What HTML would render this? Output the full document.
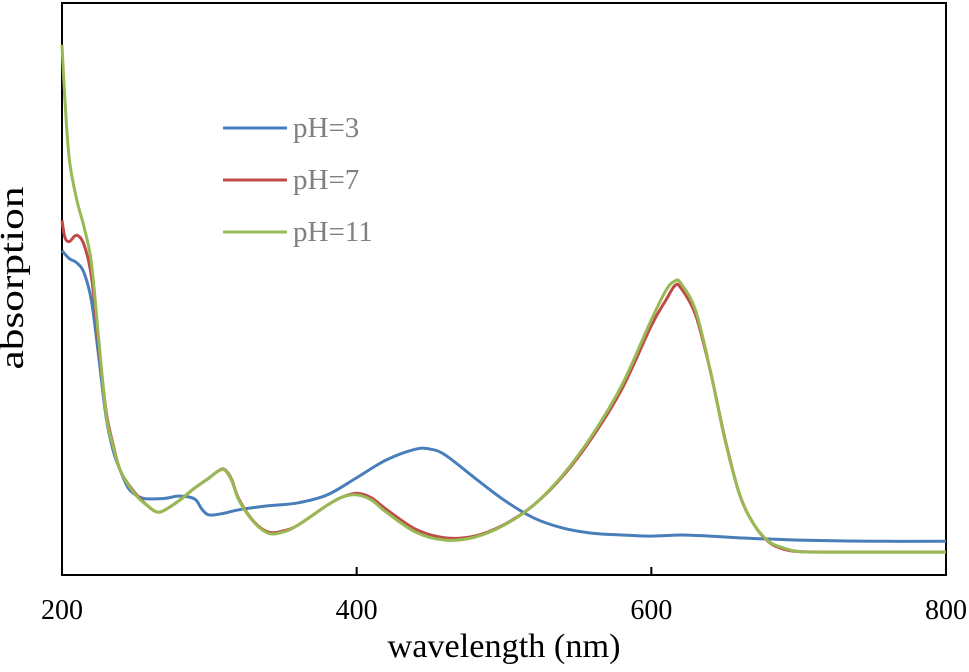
<!DOCTYPE html>
<html><head><meta charset="utf-8"><style>
body{margin:0;background:#fff}
svg text{font-family:"Liberation Serif",serif}
</style></head><body>
<svg id="chart" width="969" height="667" viewBox="0 0 969 667" xmlns="http://www.w3.org/2000/svg">
<rect x="62" y="3" width="884" height="572" fill="none" stroke="#000" stroke-width="2"/>
<g id="ticks"></g>
<g id="series"></g>
<g id="legend"></g>
<text x="504" y="657" font-size="34" text-anchor="middle" textLength="233" lengthAdjust="spacingAndGlyphs">wavelength (nm)</text>
<text transform="translate(23,278) rotate(-90)" font-size="34" text-anchor="middle" textLength="183" lengthAdjust="spacingAndGlyphs">absorption</text>
</svg>
<script>
const xTicks=[200,400,600,800];
const wl3=[200,205,210,215,220,225,230,235,240,245,250,255,260,270,280,290,295,300,310,320,340,360,380,400,420,440,450,460,480,500,520,540,560,580,600,620,640,660,700,750,800];
const abs3=[0.567,0.553,0.546,0.528,0.479,0.380,0.275,0.215,0.180,0.152,0.140,0.134,0.133,0.134,0.138,0.133,0.115,0.105,0.108,0.114,0.121,0.126,0.140,0.170,0.201,0.220,0.220,0.210,0.170,0.131,0.100,0.082,0.073,0.070,0.068,0.070,0.068,0.065,0.061,0.059,0.059];
const wl7=[200,202,205,210,215,220,225,230,235,240,250,260,265,270,280,290,300,305,310,315,320,330,340,350,360,380,390,400,410,420,440,460,480,500,520,540,560,580,600,610,616,620,630,640,650,660,670,680,690,700,720,800];
const abs7=[0.620,0.590,0.583,0.594,0.577,0.521,0.400,0.285,0.225,0.180,0.142,0.117,0.110,0.114,0.131,0.152,0.170,0.180,0.185,0.168,0.133,0.094,0.075,0.077,0.087,0.122,0.136,0.143,0.135,0.115,0.080,0.065,0.068,0.088,0.122,0.173,0.241,0.325,0.436,0.481,0.506,0.502,0.455,0.357,0.238,0.140,0.087,0.057,0.045,0.041,0.040,0.040];
const wl11=[200,202,205,210,215,220,225,230,235,240,250,260,265,270,280,290,300,305,310,315,320,330,340,350,360,380,390,400,410,420,440,460,480,500,520,540,560,580,600,610,616,620,630,640,650,660,670,680,690,700,720,800];
const abs11=[0.927,0.830,0.726,0.656,0.608,0.545,0.410,0.280,0.222,0.180,0.140,0.117,0.110,0.114,0.131,0.152,0.170,0.180,0.184,0.166,0.131,0.093,0.073,0.075,0.087,0.122,0.136,0.140,0.131,0.110,0.075,0.061,0.066,0.087,0.122,0.175,0.245,0.332,0.446,0.498,0.514,0.510,0.463,0.358,0.236,0.140,0.087,0.058,0.047,0.041,0.040,0.040];
const legendLabels=["pH=3","pH=7","pH=11"];
const colors=["#4a7ebb","#be4b48","#98b954"];
const X0=62,X1=946,Y0=575,Y1=3;
function xs(v){return X0+(v-200)/600*(X1-X0);}
function ys(v){return Y0-v*(Y0-Y1);}
const NS="http://www.w3.org/2000/svg";
const tg=document.getElementById('ticks');
xTicks.forEach(t=>{
 const l=document.createElementNS(NS,'line');
 
 
 l.setAttribute('x1',xs(t));l.setAttribute('x2',xs(t));l.setAttribute('y1',Y0);l.setAttribute('y2',Y0-8);
 l.setAttribute('stroke','#000');l.setAttribute('stroke-width','2');tg.appendChild(l);
 const tx=document.createElementNS(NS,'text');
 
 
 tx.setAttribute('x',xs(t));tx.setAttribute('y',619);tx.setAttribute('font-size','28');
 tx.setAttribute('text-anchor','middle');tx.textContent=t;tg.appendChild(tx);
});
const sg=document.getElementById('series');
[[wl3,abs3],[wl7,abs7],[wl11,abs11]].forEach((s,i)=>{
 const pts=s[0].map((w,j)=>[xs(w),ys(s[1][j])]);
 let d='M'+pts[0][0]+','+pts[0][1];
 for(let j=0;j<pts.length-1;j++){
  const p0=pts[Math.max(j-1,0)],p1=pts[j],p2=pts[j+1],p3=pts[Math.min(j+2,pts.length-1)];
  const c1=[p1[0]+(p2[0]-p0[0])/6,p1[1]+(p2[1]-p0[1])/6],c2=[p2[0]-(p3[0]-p1[0])/6,p2[1]-(p3[1]-p1[1])/6];
  d+=' C'+c1+' '+c2+' '+p2;
 }
 const p=document.createElementNS(NS,'path');
 
 
 p.setAttribute('d',d);p.setAttribute('fill','none');p.setAttribute('stroke',colors[i]);p.setAttribute('stroke-width','3');
 sg.appendChild(p);
});
const lg=document.getElementById('legend');
legendLabels.forEach((lab,i)=>{
 const y=128+i*52;
 const l=document.createElementNS(NS,'line');
 
 
 l.setAttribute('x1',223);l.setAttribute('x2',287);l.setAttribute('y1',y);l.setAttribute('y2',y);
 l.setAttribute('stroke',colors[i]);l.setAttribute('stroke-width','3');lg.appendChild(l);
 const t=document.createElementNS(NS,'text');
 
 
 t.setAttribute('x',293);t.setAttribute('y',y+9);t.setAttribute('font-size','29');t.setAttribute('fill','#808080');
 t.textContent=lab;lg.appendChild(t);
});
</script>
</body></html>
